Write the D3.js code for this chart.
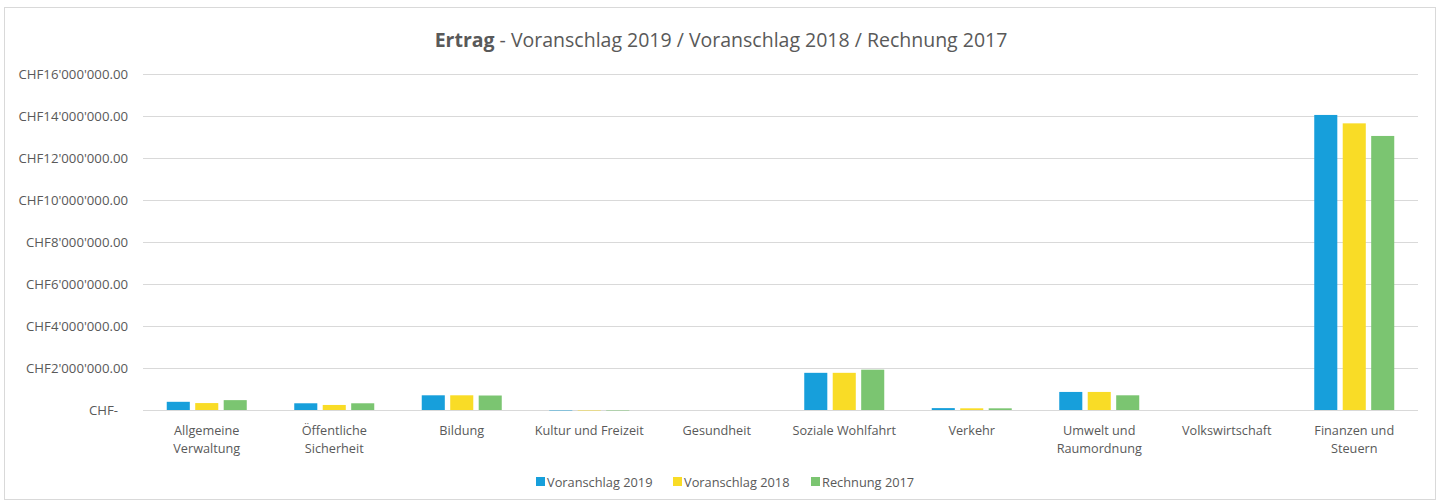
<!DOCTYPE html>
<html>
<head>
<meta charset="utf-8">
<script src="https://cdn.jsdelivr.net/npm/d3@7"></script>
<style>
  body { margin: 0; background: #fff; }
  text { font-family: "Open Sans", "Liberation Sans", sans-serif; fill: #595959; }
</style>
</head>
<body>
<div id="chart"></div>
<script>
// categories (line breaks as in the original labels)
var categories = ['Allgemeine\nVerwaltung', 'Öffentliche\nSicherheit', 'Bildung', 'Kultur und Freizeit',
    'Gesundheit', 'Soziale Wohlfahrt', 'Verkehr', 'Umwelt und\nRaumordnung', 'Volkswirtschaft', 'Finanzen und\nSteuern'];
var seriesNames = ['Voranschlag 2019', 'Voranschlag 2018', 'Rechnung 2017'];
var seriesColors = ['#179fdb', '#f9dc26', '#7bc571'];
var voranschlag2019 = [390000, 320000, 700000, -20000, 0, 1770000, 90000, 860000, 0, 14050000];
var voranschlag2018 = [330000, 240000, 700000, -20000, 0, 1770000, 80000, 860000, 0, 13650000];
var rechnung2017 = [470000, 320000, 690000, -20000, 0, 1920000, 80000, 700000, 0, 13050000];
var yTicks = [0, 2000000, 4000000, 6000000, 8000000, 10000000, 12000000, 14000000, 16000000];

var allSeries = [voranschlag2019, voranschlag2018, rechnung2017];

var width = 1443, height = 503;
var plotLeft = 143, plotRight = 1418, plotTop = 74, plotBottom = 410;

var svg = d3.select('#chart').append('svg')
    .attr('width', width)
    .attr('height', height);

// outer frame
svg.append('rect')
    .attr('x', 4.5).attr('y', 7.5)
    .attr('width', 1431).attr('height', 492)
    .attr('fill', '#fff')
    .attr('stroke', '#d9d9d9');

var y = d3.scaleLinear().domain([0, 16000000]).range([plotBottom, plotTop]);
var x0 = d3.scaleBand().domain(categories).range([plotLeft, plotRight]).padding(0);
var x1 = d3.scaleBand().domain(seriesNames).range([0, 80]).paddingInner(0.19).paddingOuter(0);

var chf = d3.formatLocale({decimal: '.', thousands: "'", grouping: [3], currency: ['CHF', '']});
var fmt = chf.format('$,.2f');

// gridlines
svg.append('g').selectAll('line')
    .data(yTicks)
    .enter()
    .append('line')
    .attr('x1', plotLeft).attr('x2', plotRight)
    .attr('y1', function (d) { return Math.round(y(d)) + 0.5; })
    .attr('y2', function (d) { return Math.round(y(d)) + 0.5; })
    .attr('stroke', '#d9d9d9')
    .attr('stroke-width', 1.2);

// y axis labels
var yAxis = d3.axisLeft(y).tickValues(yTicks).tickSize(0).tickPadding(0)
    .tickFormat(function (d) { return d === 0 ? 'CHF-' : fmt(d); });
var yg = svg.append('g').attr('transform', 'translate(128,0)').call(yAxis);
yg.select('.domain').remove();
yg.selectAll('text')
    .style('font-size', '13.2px')
    .attr('fill', '#595959');
yg.selectAll('.tick').filter(function (d) { return d === 0; }).select('text')
    .attr('x', -10);

// bars
var groups = svg.append('g').selectAll('g')
    .data(categories)
    .enter()
    .append('g')
    .attr('transform', function (d) {
        return 'translate(' + (x0(d) + (x0.bandwidth() - 80) / 2) + ',0)';
    });

groups.selectAll('rect')
    .data(function (d, i) {
        return allSeries.map(function (s, k) { return {name: seriesNames[k], value: s[i], color: seriesColors[k]}; });
    })
    .enter()
    .append('rect')
    .attr('x', function (d) { return x1(d.name); })
    .attr('width', x1.bandwidth())
    .attr('y', function (d) { return y(Math.max(0, d.value)); })
    .attr('height', function (d) { return Math.abs(y(d.value) - y(0)); })
    .attr('fill', function (d) { return d.color; });

// x labels
var xl = svg.append('g').selectAll('text')
    .data(categories)
    .enter()
    .append('text')
    .attr('x', function (d) { return x0(d) + x0.bandwidth() / 2; })
    .attr('y', 435)
    .attr('text-anchor', 'middle')
    .style('font-size', '12.7px');
xl.selectAll('tspan')
    .data(function (d) { return d.split('\n'); })
    .enter()
    .append('tspan')
    .attr('x', function () { return this.parentNode.getAttribute('x'); })
    .attr('dy', function (d, i) { return i === 0 ? 0 : 18; })
    .text(function (d) { return d; });

// title
var title = svg.append('text')
    .attr('x', 721).attr('y', 47)
    .attr('text-anchor', 'middle')
    .style('font-size', '19.5px');
title.append('tspan').style('font-weight', 'bold').text('Ertrag');
title.append('tspan').text(' - Voranschlag 2019 / Voranschlag 2018 / Rechnung 2017');

// legend
var legendX = [536, 673, 811];
var legend = svg.append('g').selectAll('g')
    .data(seriesNames)
    .enter()
    .append('g')
    .attr('transform', function (d, i) { return 'translate(' + legendX[i] + ',477)'; });
legend.append('rect')
    .attr('width', 9).attr('height', 9)
    .attr('fill', function (d, i) { return seriesColors[i]; });
legend.append('text')
    .attr('x', 11).attr('y', 9.5)
    .style('font-size', '12.8px')
    .text(function (d) { return d; });
</script>
</body>
</html>
